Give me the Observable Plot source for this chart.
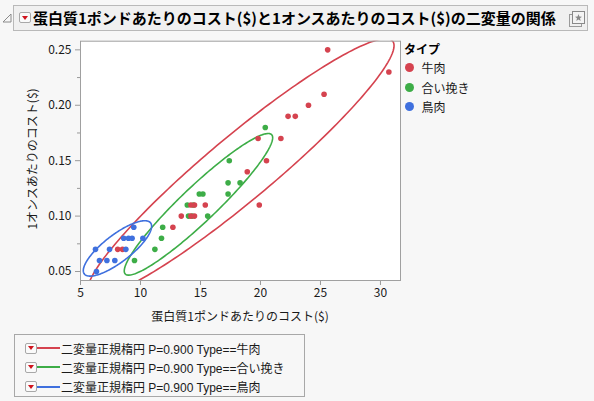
<!DOCTYPE html>
<html><head><meta charset="utf-8">
<script src="https://cdn.jsdelivr.net/npm/d3@7"></script>
<script src="https://cdn.jsdelivr.net/npm/@observablehq/plot@0.6"></script>
<style>
body{margin:0;background:#f7f7f7;font-family:"Noto Sans CJK JP","Noto Sans",sans-serif;}
#root{position:relative;width:594px;height:401px;overflow:hidden;background:#f7f7f7;color:#1a1a1a;}
.abs{position:absolute;}
#titlebar{left:13px;top:5px;width:575px;height:26px;border:1px solid #b9b9b9;background:#f0f0f0;box-sizing:border-box;}
#title{left:33px;top:5px;height:26px;line-height:26px;font-size:15px;font-weight:bold;white-space:nowrap;color:#000;}
.btn{width:12px;height:11px;border:1px solid #a8a8a8;background:#fafafa;box-sizing:border-box;border-radius:2px;}
.btn::after{content:"";position:absolute;left:2px;top:2.5px;border-left:3.5px solid transparent;border-right:3.5px solid transparent;border-top:4px solid #d0141e;}
#chart{left:0;top:0;}
.lbl{font-size:12px;white-space:nowrap;}
#legbox{left:14px;top:334px;width:291px;height:63px;border:1px solid #a8a8a8;box-sizing:border-box;background:#f7f7f7;}
.legrow{position:absolute;left:24px;height:18px;display:flex;align-items:center;font-size:12px;white-space:nowrap;font-family:"Liberation Sans","Noto Sans CJK JP",sans-serif;}
.legrow .seg{width:23px;height:2px;margin-right:1px;}
.dot{width:9px;height:9px;border-radius:50%;}
</style></head><body>
<div id="root">
  <svg class="abs" style="left:2px;top:13px" width="10" height="10"><path d="M1 9 L9 9 L9 1 Z" fill="none" stroke="#8a8a8a" stroke-width="1"/></svg>
  <div id="titlebar" class="abs"></div>
  <div class="abs btn" style="left:19px;top:12px"></div>
  <div id="title" class="abs"></div>
  <svg class="abs" style="left:568px;top:10px" width="18" height="18"><rect x="1.5" y="4.5" width="12" height="12" fill="none" stroke="#9a9a9a"/><rect x="4.5" y="1.5" width="12" height="12" fill="#f4f4f4" stroke="#8a8a8a"/><path d="M10.5 4 L11.4 6.6 L14 6.7 L12 8.3 L12.7 10.9 L10.5 9.4 L8.3 10.9 L9 8.3 L7 6.7 L9.6 6.6 Z" fill="#8a8a8a"/></svg>
  <div id="chart" class="abs"></div>
  <div id="ytitle" class="abs lbl"></div>
  <div id="xtitle" class="abs lbl"></div>
  <div id="rlegend" class="abs"></div>
  <div id="legbox" class="abs"></div>
</div>
<script>
const titleText = "蛋白質1ポンドあたりのコスト($)と1オンスあたりのコスト($)の二変量の関係";
const xLabel = "蛋白質1ポンドあたりのコスト($)";
const yLabel = "1オンスあたりのコスト($)";
const legendTitle = "タイプ";
const types = ["牛肉", "合い挽き", "鳥肉"];
const colors = ["#d5434f", "#3dad47", "#3f70de"];
const ellipseProb = 0.9;
const ellipseLabels = ["二変量正規楕円 P=0.900 Type==牛肉", "二変量正規楕円 P=0.900 Type==合い挽き", "二変量正規楕円 P=0.900 Type==鳥肉"];

const beefX = [8.1, 8.5, 12.7, 13.4, 14.2, 14.5, 14.2, 14.5, 15.4, 19.9, 18.9, 20.5, 19.8, 21.7, 22.3, 22.9, 24.0, 25.3, 30.7, 25.6];
const beefY = [0.07, 0.07, 0.09, 0.10, 0.10, 0.10, 0.11, 0.11, 0.11, 0.11, 0.14, 0.15, 0.17, 0.17, 0.19, 0.19, 0.20, 0.21, 0.23, 0.25];
const groundX = [9.5, 11.2, 11.75, 11.85, 14.0, 14.3, 15.6, 13.9, 14.4, 14.9, 15.2, 17.3, 17.3, 18.3, 17.4, 20.4];
const groundY = [0.06, 0.07, 0.08, 0.09, 0.10, 0.10, 0.10, 0.11, 0.11, 0.12, 0.12, 0.12, 0.13, 0.13, 0.15, 0.18];
const chickenX = [6.25, 7.42, 8.78, 6.58, 7.2, 7.86, 6.33, 8.6, 9.0, 9.3, 10.2, 9.44];
const chickenY = [0.07, 0.07, 0.07, 0.06, 0.06, 0.06, 0.05, 0.08, 0.08, 0.08, 0.08, 0.09];

const xTicks = [5, 10, 15, 20, 25, 30];
const yTicks = [0.05, 0.10, 0.15, 0.20, 0.25];
const yMinorTicks = [0.075, 0.125, 0.175, 0.225];
const xDomain = [5, 31.67];
const yDomain = [0.0419, 0.2578];

const groups = [[beefX, beefY], [groundX, groundY], [chickenX, chickenY]];
const drawOrder = [1, 0, 2];
const points = [];
drawOrder.forEach(i => { const [xs, ys] = groups[i]; xs.forEach((x, j) => points.push({type: types[i], x, y: ys[j]})); });

// bivariate normal density ellipse from each group's mean and covariance
const c = Math.sqrt(-2 * Math.log(1 - ellipseProb));
const ellipses = [];
groups.forEach(([xs, ys], i) => {
  const n = xs.length;
  const mx = d3.mean(xs), my = d3.mean(ys);
  let sxx = 0, syy = 0, sxy = 0;
  for (let k = 0; k < n; k++) { const dx = xs[k]-mx, dy = ys[k]-my; sxx += dx*dx; syy += dy*dy; sxy += dx*dy; }
  sxx /= n-1; syy /= n-1; sxy /= n-1;
  const l11 = Math.sqrt(sxx), l21 = sxy / l11, l22 = Math.sqrt(Math.max(syy - l21*l21, 0));
  for (let k = 0; k <= 240; k++) {
    const t = 2 * Math.PI * k / 240, u = Math.cos(t), v = Math.sin(t);
    ellipses.push({type: types[i], x: mx + c * l11 * u, y: my + c * (l21 * u + l22 * v)});
  }
});

const font = '"Noto Sans CJK JP","Noto Sans",sans-serif';
const chart = Plot.plot({
  width: 594, height: 300,
  marginLeft: 80, marginRight: 194, marginTop: 40.7, marginBottom: 20,
  style: {background: "transparent", fontFamily: font, fontSize: "12px", color: "#1a1a1a", overflow: "visible"},
  x: {domain: xDomain},
  y: {domain: yDomain},
  color: {domain: types, range: colors},
  marks: [
    Plot.frame({fill: "white", stroke: "none"}),
    Plot.line(ellipses, {x: "x", y: "y", z: "type", stroke: "type", strokeWidth: 1.6, clip: true}),
    Plot.dot(points, {x: "x", y: "y", fill: "type", r: 2.8, stroke: "none"}),
    Plot.axisX({ticks: xTicks, tickSize: 5, tickPadding: 3, label: null, stroke: "#9a9a9a", fill: "#1a1a1a"}),
    Plot.axisY({ticks: yTicks, tickSize: 5, tickPadding: 4, tickFormat: d3.format(".2f"), label: null, stroke: "#9a9a9a", fill: "#1a1a1a"}),
    Plot.axisY({ticks: yMinorTicks, tickSize: 3, tickFormat: () => "", label: null, stroke: "#9a9a9a"}),
    Plot.frame({stroke: "#a0a0a0"})
  ]
});
document.getElementById("chart").appendChild(chart);

document.getElementById("title").textContent = titleText;
const xt = document.getElementById("xtitle");
xt.textContent = xLabel;
xt.style.left = "240px"; xt.style.top = "307px"; xt.style.transform = "translateX(-50%)";
const yt = document.getElementById("ytitle");
yt.textContent = yLabel;
yt.style.left = "31px"; yt.style.top = "159px"; yt.style.transform = "translate(-50%,-50%) rotate(-90deg)";

const rl = document.getElementById("rlegend");
rl.style.left = "404px"; rl.style.top = "40px";
rl.innerHTML = `<div style="font-size:12px;font-weight:bold;height:18px;line-height:18px;color:#000">${legendTitle}</div>` +
  types.map((t, i) => `<div style="display:flex;align-items:center;height:19.5px;font-size:12px"><div class="dot" style="background:${colors[i]};margin-left:0.5px;margin-right:8px"></div>${t}</div>`).join("");

const lb = document.getElementById("legbox");
lb.innerHTML = ellipseLabels.map((t, i) =>
  `<div class="legrow" style="top:${4 + i*19.3}px;left:10px"><div class="btn" style="position:relative;margin-right:0"></div><div class="seg" style="background:${colors[i]}"></div>${t}</div>`).join("");
</script>
</body></html>
